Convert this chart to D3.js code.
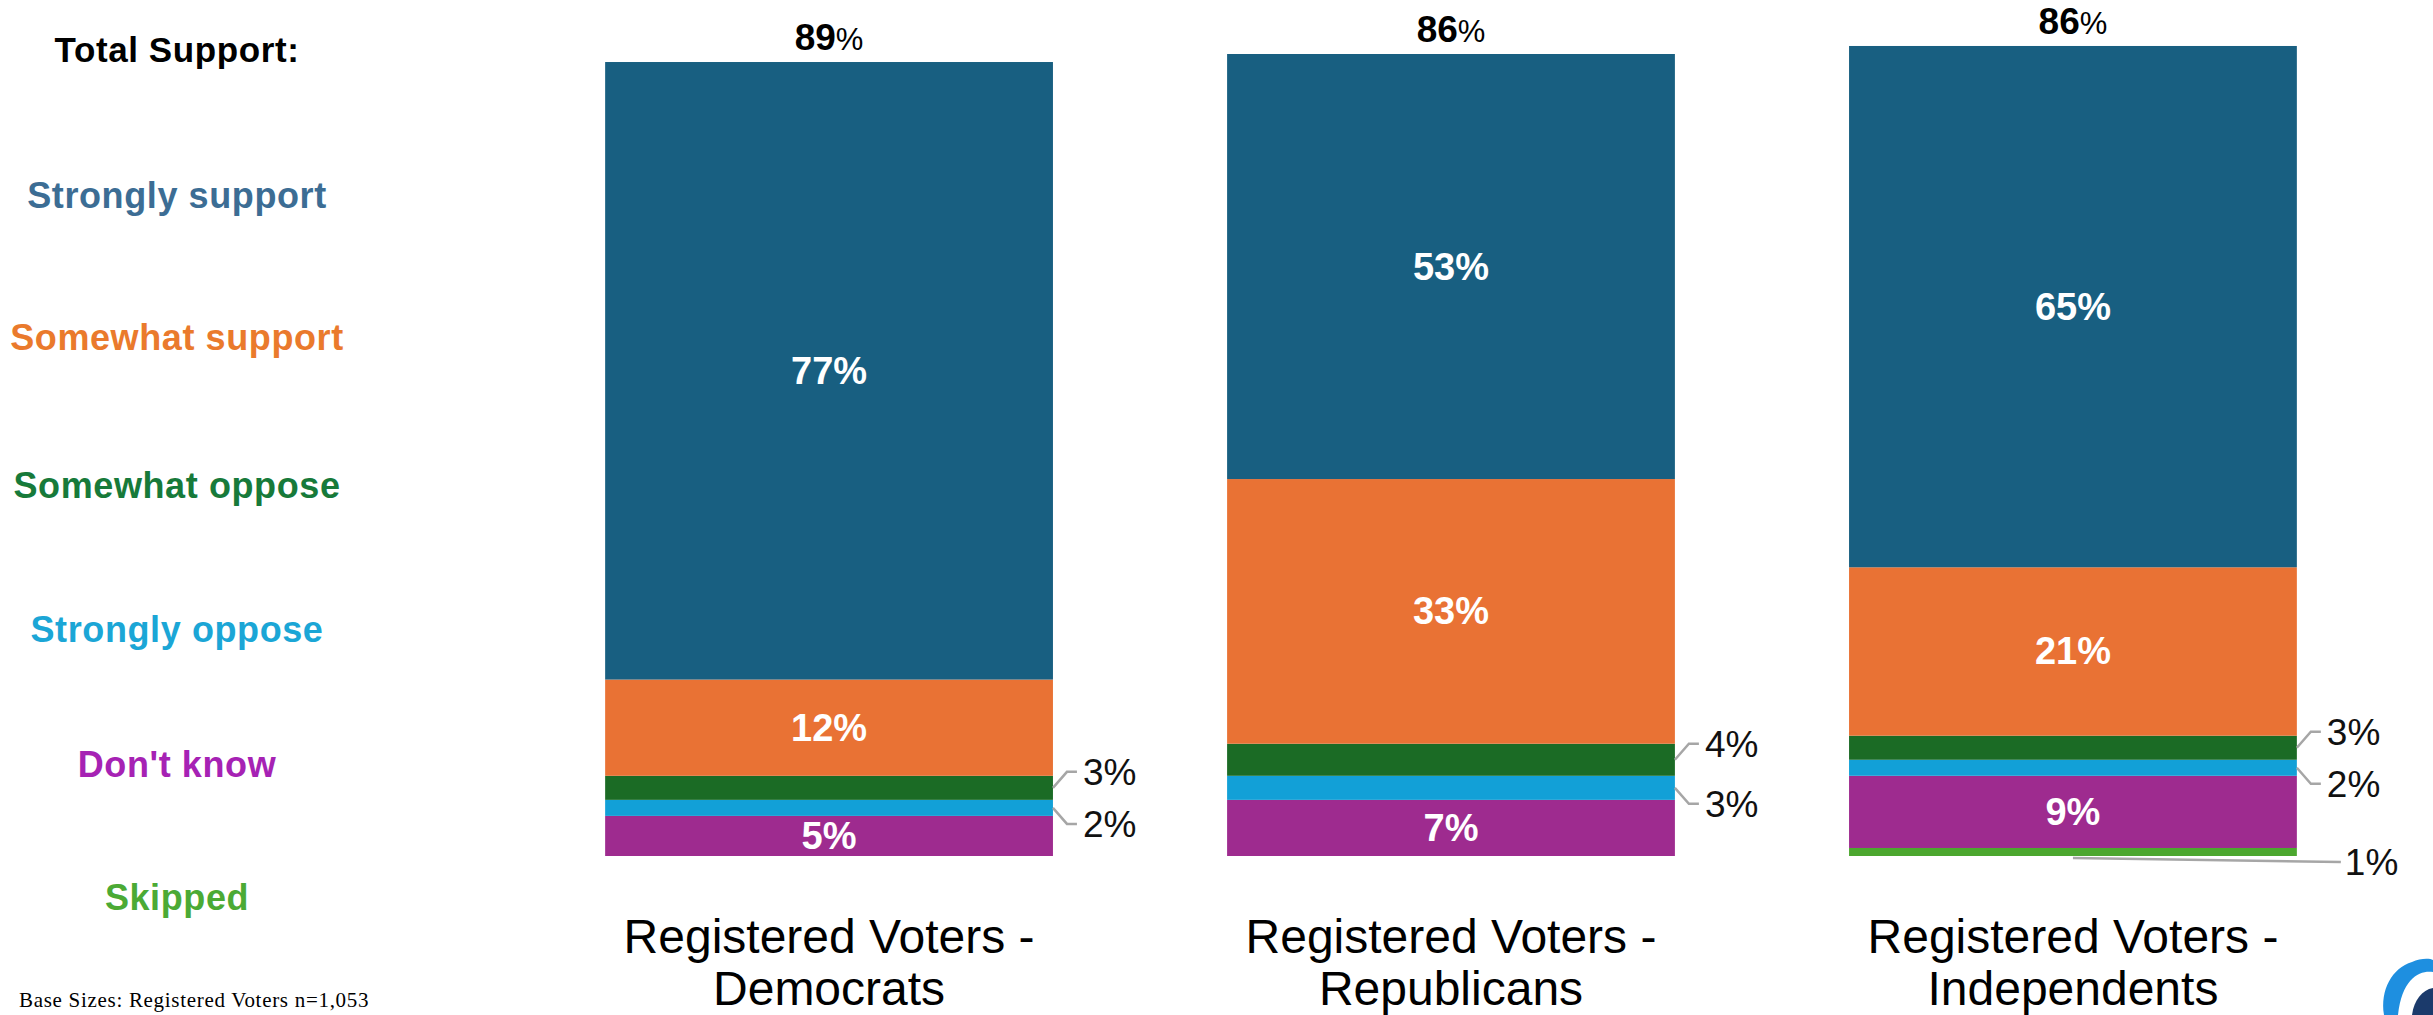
<!DOCTYPE html>
<html>
<head>
<meta charset="utf-8">
<script src="https://cdn.jsdelivr.net/npm/d3@7"></script>
<style>
  html, body { margin: 0; padding: 0; background: #fff; }
  svg { display: block; }
</style>
</head>
<body>
<svg id="chart" width="2433" height="1015"></svg>
<script>
// ---------- DATA ----------
const categories = ["Democrats", "Republicans", "Independents"];
const categoryLine1 = ["Registered Voters -", "Registered Voters -", "Registered Voters -"];
const categoryLine2 = ["Democrats", "Republicans", "Independents"];
const seriesNames = ["Strongly support", "Somewhat support", "Somewhat oppose", "Strongly oppose", "Don't know", "Skipped"];
const stronglySupport = [77, 53, 65];
const somewhatSupport = [12, 33, 21];
const somewhatOppose = [3, 4, 3];
const stronglyOppose = [2, 3, 2];
const dontKnow = [5, 7, 9];
const skipped = [0, 0, 1];
const totalSupport = [89, 86, 86];
const totalSupportLabel = "Total Support:";
const baseSizeNote = "Base Sizes: Registered Voters n=1,053";

// ---------- STYLE ----------
const barColors = {
  "Strongly support": "#185F81",
  "Somewhat support": "#E97234",
  "Somewhat oppose": "#1B6B25",
  "Strongly oppose": "#12A0D7",
  "Don't know": "#9E2B8F",
  "Skipped": "#4CA72F"
};
const legendColors = {
  "Strongly support": "#3C6D94",
  "Somewhat support": "#EA7A2C",
  "Somewhat oppose": "#177A3A",
  "Strongly oppose": "#1BA6D6",
  "Don't know": "#A622B4",
  "Skipped": "#4BAA35"
};
const FONT = "'Liberation Sans', Arial, Helvetica, sans-serif";

// table built from arrays
const seriesValues = [stronglySupport, somewhatSupport, somewhatOppose, stronglyOppose, dontKnow, skipped];
const table = categories.map((c, i) => {
  const row = { category: c, i };
  seriesNames.forEach((s, k) => row[s] = seriesValues[k][i]);
  return row;
});

const svg = d3.select("#chart");

const x = d3.scaleBand().domain(categories).range([431, 2471]).paddingInner(0.28).paddingOuter(0.28);
const y = d3.scaleLinear().domain([0, 100]).range([856, 54]);

const stackKeys = seriesNames.slice().reverse(); // bottom to top
const stacked = d3.stack().keys(stackKeys)(table);

// bars
const g = svg.append("g");
stacked.forEach(layer => {
  g.selectAll(null).data(layer).enter().append("rect")
    .attr("x", d => x(d.data.category))
    .attr("width", x.bandwidth())
    .attr("y", d => y(d[1]))
    .attr("height", d => Math.max(0, y(d[0]) - y(d[1])))
    .attr("fill", barColors[layer.key]);
});

// inside labels / callouts
const calloutDir = { "Somewhat oppose": -1, "Strongly oppose": 1 };
stacked.forEach(layer => {
  layer.forEach(d => {
    const v = d[1] - d[0];
    if (v <= 0) return;
    const cx = x(d.data.category) + x.bandwidth() / 2;
    const right = x(d.data.category) + x.bandwidth();
    const mid = (y(d[0]) + y(d[1])) / 2;
    if (v >= 5) {
      svg.append("text")
        .attr("x", cx).attr("y", mid + 13)
        .attr("text-anchor", "middle")
        .attr("font-family", FONT).attr("font-weight", "bold")
        .attr("font-size", 38).attr("fill", "#fff")
        .text(v + "%");
    } else if (layer.key === "Skipped") {
      const ly = y(d[0]) + 6;
      svg.append("path")
        .attr("d", `M${cx},${y(d[0]) + 2} L${right + 44},${ly}`)
        .attr("stroke", "#A6A6A6").attr("stroke-width", 2.5).attr("fill", "none");
      svg.append("text")
        .attr("x", right + 48).attr("y", ly + 13)
        .attr("font-family", FONT).attr("font-size", 37).attr("fill", "#111")
        .text(v + "%");
    } else {
      const dir = calloutDir[layer.key];
      const ly = mid + dir * 16;
      svg.append("path")
        .attr("d", `M${right},${mid} L${right + 14},${ly} L${right + 24},${ly}`)
        .attr("stroke", "#A6A6A6").attr("stroke-width", 2.5).attr("fill", "none");
      svg.append("text")
        .attr("x", right + 30).attr("y", ly + 13)
        .attr("font-family", FONT).attr("font-size", 37).attr("fill", "#111")
        .text(v + "%");
    }
  });
});

// total support labels above bars
const topStack = stacked[stacked.length - 1];
topStack.forEach((d, i) => {
  const cx = x(d.data.category) + x.bandwidth() / 2;
  const t = svg.append("text")
    .attr("x", cx).attr("y", y(d[1]) - 12)
    .attr("text-anchor", "middle")
    .attr("font-family", FONT).attr("fill", "#000");
  t.append("tspan").attr("font-weight", "bold").attr("font-size", 37).text(totalSupport[i]);
  t.append("tspan").attr("font-size", 31).text("%");
});

// category labels
categories.forEach((c, i) => {
  const cx = x(c) + x.bandwidth() / 2;
  const t = svg.append("text")
    .attr("text-anchor", "middle")
    .attr("font-family", FONT).attr("font-size", 48).attr("fill", "#000");
  t.append("tspan").attr("x", cx).attr("y", 953).text(categoryLine1[i]);
  t.append("tspan").attr("x", cx).attr("y", 1005).text(categoryLine2[i]);
});

// left legend
const legendX = 177;
svg.append("text")
  .attr("x", legendX).attr("y", 62)
  .attr("text-anchor", "middle")
  .attr("font-family", FONT).attr("font-weight", "bold").attr("font-size", 35)
  .attr("letter-spacing", 0.6).attr("fill", "#000")
  .text(totalSupportLabel);
const legendCenters = { "Strongly support": 196, "Somewhat support": 338, "Somewhat oppose": 486, "Strongly oppose": 630, "Don't know": 765, "Skipped": 898 };
seriesNames.forEach(s => {
  svg.append("text")
    .attr("x", legendX).attr("y", legendCenters[s] + 12)
    .attr("text-anchor", "middle")
    .attr("font-family", FONT).attr("font-weight", "bold").attr("font-size", 36)
    .attr("letter-spacing", 0.6)
    .attr("fill", legendColors[s])
    .text(s);
});

// base size note
svg.append("text")
  .attr("x", 19).attr("y", 1007)
  .attr("font-family", "'Liberation Serif', 'Times New Roman', serif")
  .attr("font-size", 21).attr("letter-spacing", 0.7).attr("fill", "#000")
  .text(baseSizeNote);

// logo fragment bottom right
const logo = svg.append("g");
logo.append("path")
  .attr("d", "M2384,1015 C2380,990 2392,968 2412,962 C2420,958 2430,958 2433,960 L2433,972 C2420,970 2402,978 2398,1015 Z")
  .attr("fill", "#1E8FE0");
logo.append("path")
  .attr("d", "M2412,1015 C2414,1000 2422,990 2433,988 L2433,1015 Z")
  .attr("fill", "#1B3A6B");
</script>
</body>
</html>
